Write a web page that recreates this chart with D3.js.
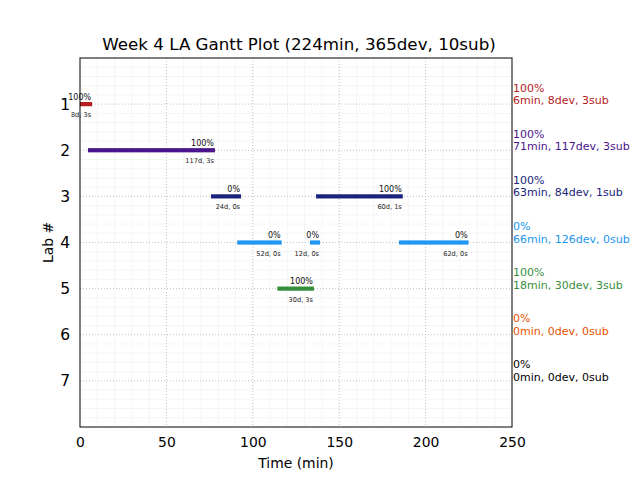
<!DOCTYPE html>
<html><head><meta charset="utf-8">
<script src="https://cdn.jsdelivr.net/npm/d3@7"></script>
<style>body{margin:0;background:#fff}svg{display:block;font-family:"DejaVu Sans",sans-serif}</style>
</head><body><svg id="c" width="640" height="480"></svg>
<script>
const title = "Week 4 LA Gantt Plot (224min, 365dev, 10sub)";
const labs = [1,2,3,4,5,6,7];
const labColors = ["#b71c1c","#4a148c","#1a237e","#2196f3","#388e3c","#e65100","#000000"];
// segments per lab
const segLab   = [1, 2, 3, 3, 4, 4, 4, 5];
const segStart = [0, 4.6, 75.8, 136.6, 91.0, 133.1, 184.6, 114.2];
const segEnd   = [7, 78.1, 93.2, 186.8, 116.7, 138.9, 224.9, 135.4];
const segPct   = ["100%","100%","0%","100%","0%","0%","0%","100%"];
const segInfo  = ["8d, 3s","117d, 3s","24d, 0s","60d, 1s","52d, 0s","12d, 0s","62d, 0s","30d, 3s"];
// right-side summaries
const sumPct  = ["100%","100%","100%","0%","100%","0%","0%"];
const sumInfo = ["6min, 8dev, 3sub","71min, 117dev, 3sub","63min, 84dev, 1sub","66min, 126dev, 0sub","18min, 30dev, 3sub","0min, 0dev, 0sub","0min, 0dev, 0sub"];
const xTicks = [0,50,100,150,200,250];

const svg = d3.select("#c");
const L=80,R=512,T=58,B=427;
const x = d3.scaleLinear().domain([0,250]).range([L,R]);
const y = d3.scaleLinear().domain([0,8]).range([T,B]);

// minor grid
const g = svg.append("g");
g.selectAll(".mx").data(d3.range(10,250,10).filter(v=>v%50)).enter().append("line")
 .attr("x1",d=>x(d)).attr("x2",d=>x(d)).attr("y1",T).attr("y2",B).attr("stroke","#f3f3f3").attr("stroke-width",0.8);
g.selectAll(".my").data(d3.range(1,40).map(v=>v*0.2).filter(v=>Math.abs(v-Math.round(v))>1e-6)).enter().append("line")
 .attr("y1",d=>y(d)).attr("y2",d=>y(d)).attr("x1",L).attr("x2",R).attr("stroke","#f3f3f3").attr("stroke-width",0.8);
// major grid
g.selectAll(".Mx").data(xTicks.slice(1,-1)).enter().append("line")
 .attr("x1",d=>x(d)).attr("x2",d=>x(d)).attr("y1",T).attr("y2",B).attr("stroke","#b0b0b0").attr("stroke-width",0.8).attr("stroke-dasharray","1,2");
g.selectAll(".My").data(labs).enter().append("line")
 .attr("y1",d=>y(d)).attr("y2",d=>y(d)).attr("x1",L).attr("x2",R).attr("stroke","#b0b0b0").attr("stroke-width",0.8).attr("stroke-dasharray","1,2");

// bars
const segs = segLab.map((l,i)=>({lab:l,s:segStart[i],e:segEnd[i],pct:segPct[i],info:segInfo[i]}));
svg.selectAll(".bar").data(segs).enter().append("rect")
 .attr("x",d=>x(d.s)).attr("width",d=>x(d.e)-x(d.s)).attr("y",d=>y(d.lab)-2.1).attr("height",4.2)
 .attr("fill",d=>labColors[d.lab-1]);
svg.selectAll(".pl").data(segs).enter().append("text")
 .attr("x",d=>x(d.e)-1).attr("y",d=>y(d.lab)-4.5).attr("text-anchor","end").attr("font-size",8).attr("fill","#111").text(d=>d.pct);
svg.selectAll(".il").data(segs).enter().append("text")
 .attr("x",d=>x(d.e)-1).attr("y",d=>y(d.lab)+13).attr("text-anchor","end").attr("font-size",6.6).attr("fill","#222").text(d=>d.info);

// frame
svg.append("rect").attr("x",L).attr("y",T).attr("width",R-L).attr("height",B-T).attr("fill","none").attr("stroke","#000").attr("stroke-width",1);

// axes
const xa = svg.append("g").attr("transform",`translate(0,${B})`).call(d3.axisBottom(x).tickValues(xTicks).tickSize(0).tickPadding(10));
xa.select(".domain").remove();
xa.selectAll("text").attr("font-size",13.9).attr("font-family","DejaVu Sans").attr("fill","#000");
const ya = svg.append("g").attr("transform",`translate(${L},0)`).call(d3.axisLeft(y).tickValues(labs).tickSize(0).tickPadding(10));
ya.select(".domain").remove();
ya.selectAll("text").attr("font-size",15.5).attr("font-family","DejaVu Sans").attr("fill","#000");

// right summaries
const rs = svg.selectAll(".rs").data(labs).enter().append("g");
rs.append("text").attr("x",R+1).attr("y",d=>y(d)-12.5).attr("font-size",11).attr("fill",(d,i)=>labColors[i]).text((d,i)=>sumPct[i]);
rs.append("text").attr("x",R+1).attr("y",d=>y(d)).attr("font-size",11).attr("fill",(d,i)=>labColors[i]).text((d,i)=>sumInfo[i]);

// titles
svg.append("text").attr("x",(L+R)/2+3).attr("y",50).attr("text-anchor","middle").attr("font-size",16.7).text(title);
svg.append("text").attr("x",(L+R)/2).attr("y",468).attr("text-anchor","middle").attr("font-size",13.9).text("Time (min)");
svg.append("text").attr("transform",`translate(53,${(T+B)/2}) rotate(-90)`).attr("text-anchor","middle").attr("font-size",13.9).text("Lab #");
</script></body></html>
